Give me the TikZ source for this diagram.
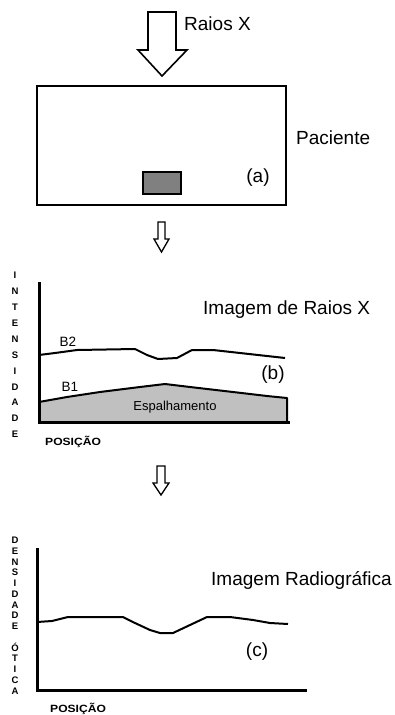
\documentclass[tikz,border=0pt]{standalone}
\usepackage{fontspec}
\setmainfont{Liberation Sans}
\definecolor{scatgray}{HTML}{C0C0C0}
\definecolor{objgray}{HTML}{808080}

\begin{document}
\begin{tikzpicture}[x=1pt,y=-1pt,
	bigtxt/.style={inner sep=0pt,font=\fontsize{19}{22}\selectfont},
	smalltxt/.style={inner sep=0pt,font=\fontsize{13.5}{15}\selectfont},
	postxt/.style={inner sep=0pt,anchor=west,xscale=1.15,font=\bfseries\fontsize{10.5}{12}\selectfont},
	vtxt/.style={inner sep=0pt,anchor=north,align=center,font=\bfseries\fontsize{9.5}{#1}\selectfont},
	axis/.style={line width=3pt},
	curve/.style={line width=2pt,line join=round},
	seta/.style={line width=1.3pt,line join=miter}]
	\useasboundingbox (0,0) rectangle (394,715);

	% raios X incidentes
	\draw[seta,line width=1.6pt] (148,12) -- (176,12) -- (176,50) -- (187,50) -- (162,76) -- (138,50) -- (148,50) -- cycle;
	\node[bigtxt,anchor=west] (raios) at (184,24) {Raios X};

	% paciente (a)
	\draw[line width=2.5pt] (37,86) rectangle (286,205);
	\draw[line width=2.2pt,fill=objgray] (143,172) rectangle (181,194);
	\node[bigtxt,anchor=west] (paciente) at (296,138) {Paciente};
	\node[bigtxt] (a) at (258,178) {(a)};

	\draw[seta] (158,222) -- (165,222) -- (165,239) -- (169,239) -- (161.5,252) -- (154,239) -- (158,239) -- cycle;

	% imagem de raios X (b)
	\fill[scatgray] (39,402) -- (67,397) -- (100,392) -- (140,387) -- (165,384) -- (190,387) -- (233,392) -- (267,396) -- (287,398) -- (287,422) -- (39,422) -- cycle;
	\draw[curve] (39,402) -- (67,397) -- (100,392) -- (140,387) -- (165,384) -- (190,387) -- (233,392) -- (267,396) -- (287,398) -- (287,422);
	\draw[curve] (39,355) -- (55,353) -- (77,350) -- (135,349) -- (147,355) -- (158,359) -- (177,358) -- (192,350) -- (213,350) -- (240,353) -- (267,356) -- (285,358);
	\draw[axis] (39,282) -- (39,422) -- (290,422);
	\node[smalltxt] (b2) at (68,342) {B2};
	\node[smalltxt] (b1) at (70,387) {B1};
	\node[bigtxt] (b) at (273,375) {(b)};
	\node[inner sep=0pt,font=\fontsize{13}{15}\selectfont] (espalh) at (175,407) {Espalhamento};
	\node[bigtxt,anchor=west] (imgrx) at (203,310) {Imagem de Raios X};
	\node[postxt] (posb) at (45,442) {POSIÇÃO};
	\node[vtxt=15.9] (intens) at (15,272) {I\\N\\T\\E\\N\\S\\I\\D\\A\\D\\E};

	\draw[seta] (157,466) -- (165,466) -- (165,483) -- (169,483) -- (161,495) -- (153,483) -- (157,483) -- cycle;

	% imagem radiografica (c)
	\draw[curve] (37,622) -- (52,621) -- (68,617) -- (123,617) -- (135,623) -- (150,630) -- (160,633) -- (173,633) -- (190,625) -- (207,617) -- (230,617) -- (253,620) -- (270,623) -- (288,624);
	\draw[axis] (37,548) -- (37,690) -- (307,690);
	\node[bigtxt,anchor=west] (imgrad) at (211,580) {Imagem Radiográfica};
	\node[bigtxt] (c) at (257,652) {(c)};
	\node[postxt] (posc) at (50,709) {POSIÇÃO};
	\node[vtxt=10.75] (densid) at (15,537) {D\\E\\N\\S\\I\\D\\A\\D\\E\\ \\Ó\\T\\I\\C\\A};
\end{tikzpicture}
\end{document}
